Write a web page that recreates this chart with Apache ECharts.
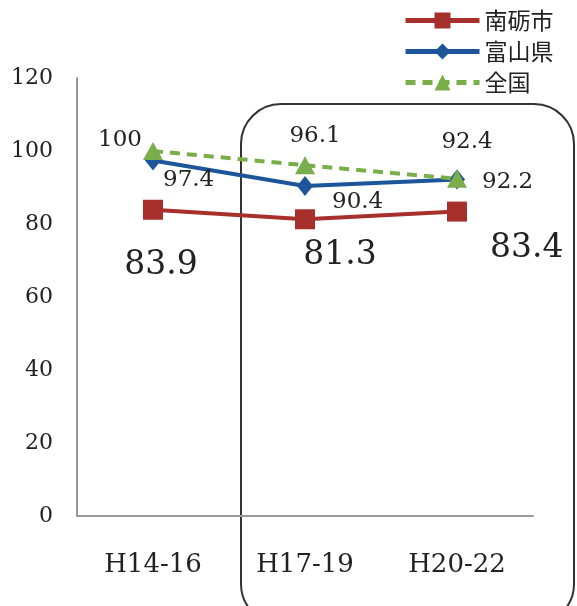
<!DOCTYPE html>
<html>
<head>
<meta charset="utf-8">
<script src="https://cdn.jsdelivr.net/npm/echarts@6/dist/echarts.min.js"></script>
<style>
  html, body { margin: 0; padding: 0; background: #fff; }
  #chart { width: 577px; height: 606px; }
</style>
</head>
<body>
<div id="chart"></div>
<script>
// Periods (Heisei years)
const periods = ['H14-16', 'H17-19', 'H20-22'];

// Values per area
const nanto = [83.9, 81.3, 83.4];
const toyama = [97.4, 90.4, 92.2];
const zenkoku = [100, 96.1, 92.4];

const seriesNames = ['南砺市', '富山県', '全国'];

const serif = '"DejaVu Serif", "Liberation Serif", serif';
const cjk = '"Noto Sans CJK JP", sans-serif';

const RED = '#a8302c';
const BLUE = '#1c5599';
const GREEN = '#7aae4a';

// per-point label placement
const nantoLabels = [
  { position: 'bottom', distance: 29, offset: [8, 0] },
  { position: 'bottom', distance: 10, offset: [35, 0] },
  { position: 'right', distance: 23, offset: [0, 37] }
];
const toyamaLabels = [
  { position: 'right', distance: 2, offset: [0, 20] },
  { position: 'right', distance: 19, offset: [0, 16] },
  { position: 'right', distance: 17, offset: [0, 3] }
];
const zenkokuLabels = [
  { position: 'left', distance: 1, offset: [0, -11] },
  { position: 'top', distance: 9, offset: [10, 0] },
  { position: 'top', distance: 16, offset: [10, 0] }
];

function withLabels(values, labels, size) {
  return values.map((v, i) => ({
    value: v,
    label: Object.assign({ show: true, fontSize: size, fontFamily: serif, color: '#222' }, labels[i])
  }));
}

const chart = echarts.init(document.getElementById('chart'));
chart.setOption({
  animation: false,
  backgroundColor: '#fff',
  grid: { left: 77, width: 456, top: 78, height: 438 },
  legend: {
    orient: 'vertical',
    left: 398,
    top: 4,
    itemWidth: 74,
    itemHeight: 20,
    itemGap: 8,
    data: seriesNames,
    lineStyle: { width: 5 },
    textStyle: { fontFamily: cjk, fontSize: 23, color: '#222' }
  },
  xAxis: {
    type: 'category',
    data: periods,
    boundaryGap: true,
    axisLine: { lineStyle: { color: '#9a9a9a', width: 2 } },
    axisTick: { show: false },
    axisLabel: { fontFamily: serif, fontSize: 26, color: '#222', margin: 36 }
  },
  yAxis: {
    type: 'value',
    min: 0,
    max: 120,
    interval: 20,
    axisLine: { show: true, lineStyle: { color: '#9a9a9a', width: 2 } },
    axisTick: { show: false },
    splitLine: { show: false },
    axisLabel: { fontFamily: serif, fontSize: 22, color: '#222', margin: 24 }
  },
  graphic: [{
    type: 'rect',
    z: 0,
    shape: { x: 241, y: 104, width: 333, height: 520, r: 40 },
    style: { fill: 'none', stroke: '#333', lineWidth: 2 }
  }],
  series: [
    {
      name: seriesNames[0],
      type: 'line',
      data: withLabels(nanto, nantoLabels, 33),
      symbol: 'rect',
      symbolSize: 20,
      itemStyle: { color: RED },
      lineStyle: { color: RED, width: 4 },
      z: 3
    },
    {
      name: seriesNames[1],
      type: 'line',
      data: withLabels(toyama, toyamaLabels, 23),
      symbol: 'diamond',
      symbolSize: [16, 20],
      itemStyle: { color: BLUE },
      lineStyle: { color: BLUE, width: 4 },
      z: 4
    },
    {
      name: seriesNames[2],
      type: 'line',
      data: withLabels(zenkoku, zenkokuLabels, 23),
      symbol: 'triangle',
      symbolSize: [20, 18],
      itemStyle: { color: GREEN },
      lineStyle: { color: GREEN, width: 4, type: [10, 7] },
      z: 5
    }
  ]
});
</script>
</body>
</html>
